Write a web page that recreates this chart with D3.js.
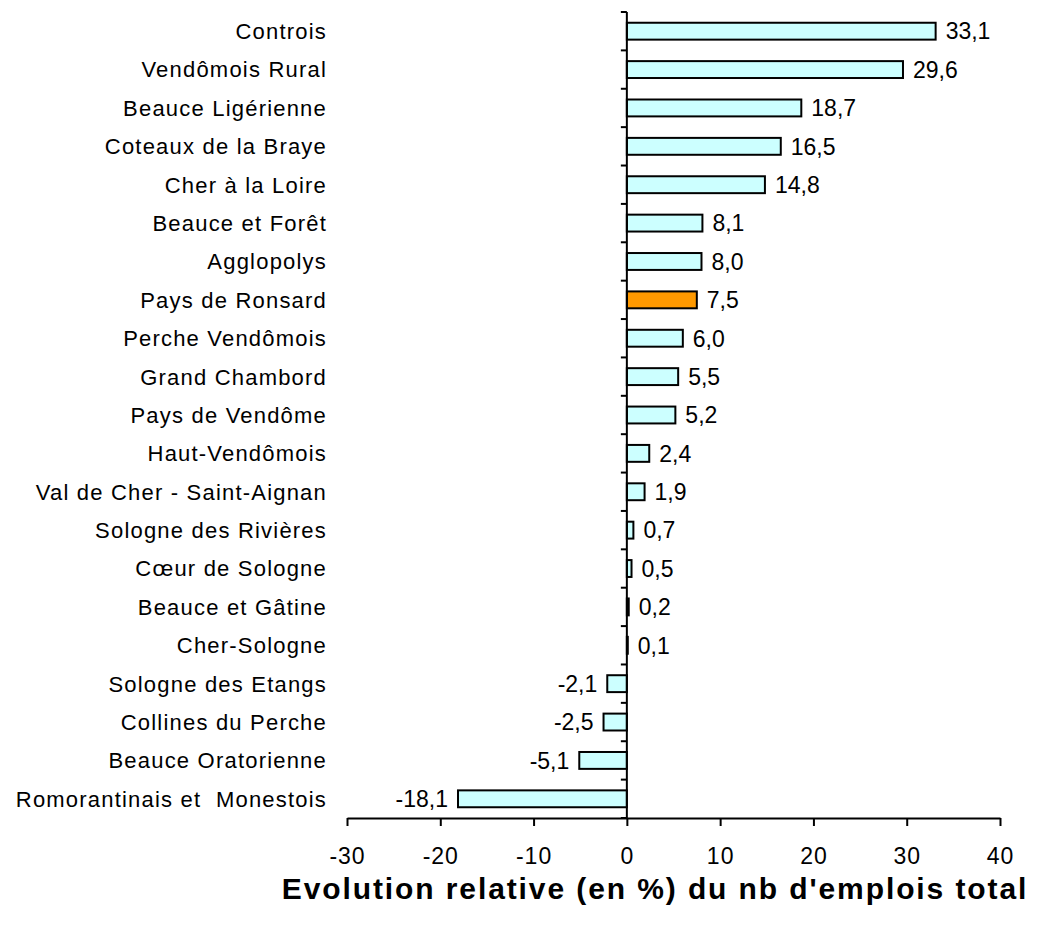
<!DOCTYPE html>
<html><head><meta charset="utf-8">
<script src="https://cdn.jsdelivr.net/npm/d3@7"></script>
<style>body{margin:0;background:#fff}svg{display:block}text{font-family:"Liberation Sans",Arial,sans-serif}</style>
</head><body>
<svg id="c" width="1044" height="927"></svg>
<script>
const categories = ["Controis","Vendômois Rural","Beauce Ligérienne","Coteaux de la Braye","Cher à la Loire","Beauce et Forêt","Agglopolys","Pays de Ronsard","Perche Vendômois","Grand Chambord","Pays de Vendôme","Haut-Vendômois","Val de Cher - Saint-Aignan","Sologne des Rivières","Cœur de Sologne","Beauce et Gâtine","Cher-Sologne","Sologne des Etangs","Collines du Perche","Beauce Oratorienne","Romorantinais et  Monestois"];
const values = [33.1,29.6,18.7,16.5,14.8,8.1,8.0,7.5,6.0,5.5,5.2,2.4,1.9,0.7,0.5,0.2,0.1,-2.1,-2.5,-5.1,-18.1];
const highlight = "Pays de Ronsard";
const xTicks = [-30,-20,-10,0,10,20,30,40];
const title = "Evolution relative (en %) du nb d'emplois total";

const svg = d3.select("#c");
const x = d3.scaleLinear().domain([-30,40]).range([347,1000]);
const y = d3.scaleBand().domain(categories).range([12,818]).paddingInner(0.56).paddingOuter(0.28);
const fmt = v => v.toFixed(1).replace(".", ",");

// bars
svg.append("g").selectAll("rect").data(categories).join("rect")
  .attr("x", (d,i)=>Math.min(x(0),x(values[i])))
  .attr("width", (d,i)=>Math.abs(x(values[i])-x(0)))
  .attr("y", d=>y(d))
  .attr("height", y.bandwidth())
  .attr("fill", d=> d===highlight ? "#FF9900" : "#CCFFFF")
  .attr("stroke", "#000").attr("stroke-width", 2);

// value labels
svg.append("g").selectAll("text").data(categories).join("text")
  .attr("x", (d,i)=> values[i]>=0 ? x(values[i])+10 : x(values[i])-10)
  .attr("y", d=>y(d)+y.bandwidth()/2)
  .attr("dy","0.36em")
  .attr("text-anchor",(d,i)=> values[i]>=0 ? "start":"end")
  .attr("font-size",23)
  .text((d,i)=>fmt(values[i]));

// category labels
svg.append("g").selectAll("text").data(categories).join("text")
  .attr("x", 327)
  .attr("y", d=>y(d)+y.bandwidth()/2)
  .attr("dy","0.36em")
  .attr("text-anchor","end")
  .attr("font-size",22)
  .attr("letter-spacing","1.2px")
  .attr("xml:space","preserve")
  .style("white-space","pre")
  .text(d=>d);

// y axis line with ticks between categories
const yAxisG = svg.append("g");
yAxisG.append("line").attr("x1",x(0)).attr("x2",x(0)).attr("y1",12).attr("y2",818).attr("stroke","#000").attr("stroke-width",2);
const bounds = d3.range(categories.length+1).map(i=>12 + i*(806/categories.length));
yAxisG.selectAll("line.t").data(bounds).join("line").attr("class","t")
  .attr("x1",x(0)-6).attr("x2",x(0)).attr("y1",d=>d).attr("y2",d=>d)
  .attr("stroke","#000").attr("stroke-width",2);

// x axis
const xAxis = d3.axisBottom(x).tickValues(xTicks).tickSize(8).tickSizeOuter(0).tickPadding(22).tickFormat(d=>d);
const gx = svg.append("g").attr("transform","translate(0,818)").call(xAxis);
gx.select(".domain").attr("stroke","#000").attr("stroke-width",2);
gx.selectAll(".tick line").attr("stroke","#000").attr("stroke-width",2);
gx.selectAll(".tick text").attr("font-size",23).attr("letter-spacing","1px").attr("font-family","Liberation Sans, Arial, sans-serif").attr("fill","#000");

// title
svg.append("text").attr("x",655).attr("y",899).attr("text-anchor","middle")
  .attr("font-size",30).attr("font-weight","bold").attr("letter-spacing","1.9px").text(title);
</script>
</body></html>
